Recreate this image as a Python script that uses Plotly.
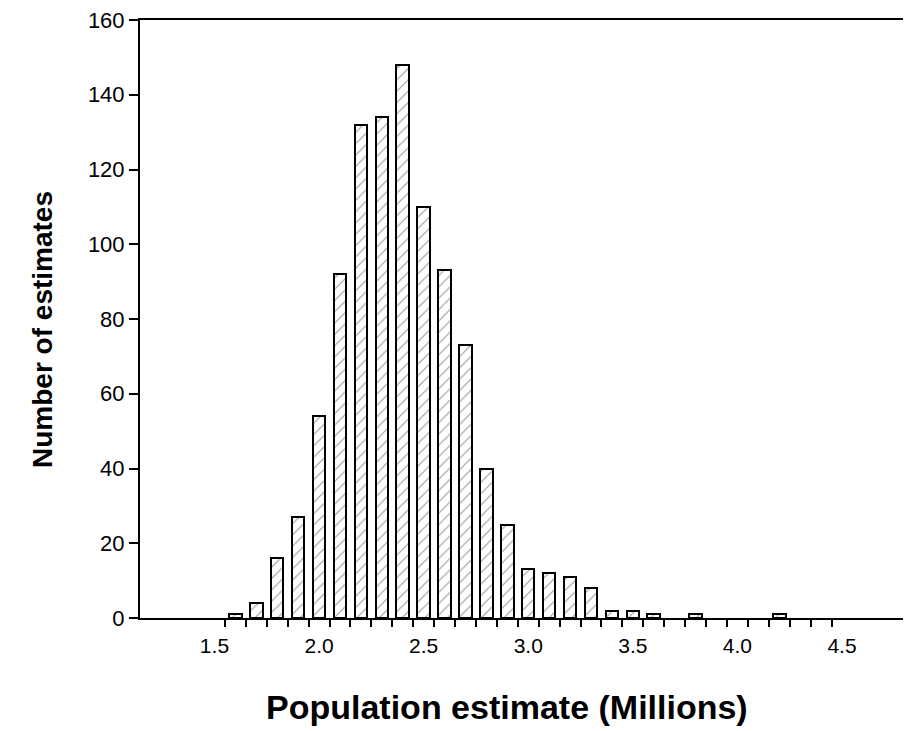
import plotly.graph_objects as go

bin_centers = [1.6, 1.7, 1.8, 1.9, 2.0, 2.1, 2.2, 2.3, 2.4, 2.5, 2.6, 2.7, 2.8, 2.9,
               3.0, 3.1, 3.2, 3.3, 3.4, 3.5, 3.6, 3.8, 4.2]
counts = [1, 4, 16, 27, 54, 92, 132, 134, 148, 110, 93, 73, 40, 25,
          13, 12, 11, 8, 2, 2, 1, 1, 1]
x_tick_vals = [1.5, 2.0, 2.5, 3.0, 3.5, 4.0, 4.5]
x_tick_text = ["1.5", "2.0", "2.5", "3.0", "3.5", "4.0", "4.5"]
y_tick_vals = [0, 20, 40, 60, 80, 100, 120, 140, 160]
bin_edges = [round(1.55 + 0.1 * i, 2) for i in range(30)]

FONT = "Liberation Sans, Arial, Helvetica, sans-serif"

# page body has an 8px margin; plot area should span x 140..911, y 18..618 on the page
fig = go.Figure()
fig.add_trace(go.Bar(
    x=bin_centers, y=counts, width=0.06,
    marker=dict(color="white",
                line=dict(color="black", width=2),
                pattern=dict(shape="/", fgcolor="#333333", bgcolor="white",
                             size=8, solidity=0.14)),
    showlegend=False,
))

fig.update_layout(
    width=903, height=723,
    margin=dict(l=132, r=0, t=10, b=113),
    paper_bgcolor="white", plot_bgcolor="white",
    font=dict(family=FONT, color="black", size=21),
    bargap=0,
)
fig.update_xaxes(
    range=[1.144, 4.83], showgrid=False, zeroline=False,
    showline=True, linecolor="black", linewidth=2, mirror=True,
    tickmode="array", tickvals=x_tick_vals, ticktext=x_tick_text,
    ticks="outside", ticklen=8, tickcolor="rgba(0,0,0,0)",
    tickfont=dict(size=21), ticklabeloverflow="allow",
    minor=dict(tickmode="array", tickvals=bin_edges, ticks="outside",
               ticklen=7, tickwidth=1.5, tickcolor="black"),
)
fig.update_yaxes(
    range=[0, 160], showgrid=False, zeroline=False,
    showline=True, linecolor="black", linewidth=2,
    tickmode="array", tickvals=y_tick_vals,
    ticks="outside", ticklen=9, tickwidth=1.5, tickcolor="black",
    tickfont=dict(size=22), ticklabeloverflow="allow",
)
fig.add_annotation(text="<b>Population estimate (Millions)</b>", xref="paper", yref="paper",
                   x=(507 - 140) / 771, y=-(728 - 618) / 600, showarrow=False,
                   font=dict(size=34, family=FONT), xanchor="center", yanchor="bottom")
fig.add_annotation(text="<b>Number of estimates</b>", xref="paper", yref="paper",
                   x=-(140 - 43) / 771, y=(618 - 329) / 600, showarrow=False, textangle=-90,
                   font=dict(size=28, family=FONT), xanchor="center", yanchor="middle")

fig.write_html("out.html")
